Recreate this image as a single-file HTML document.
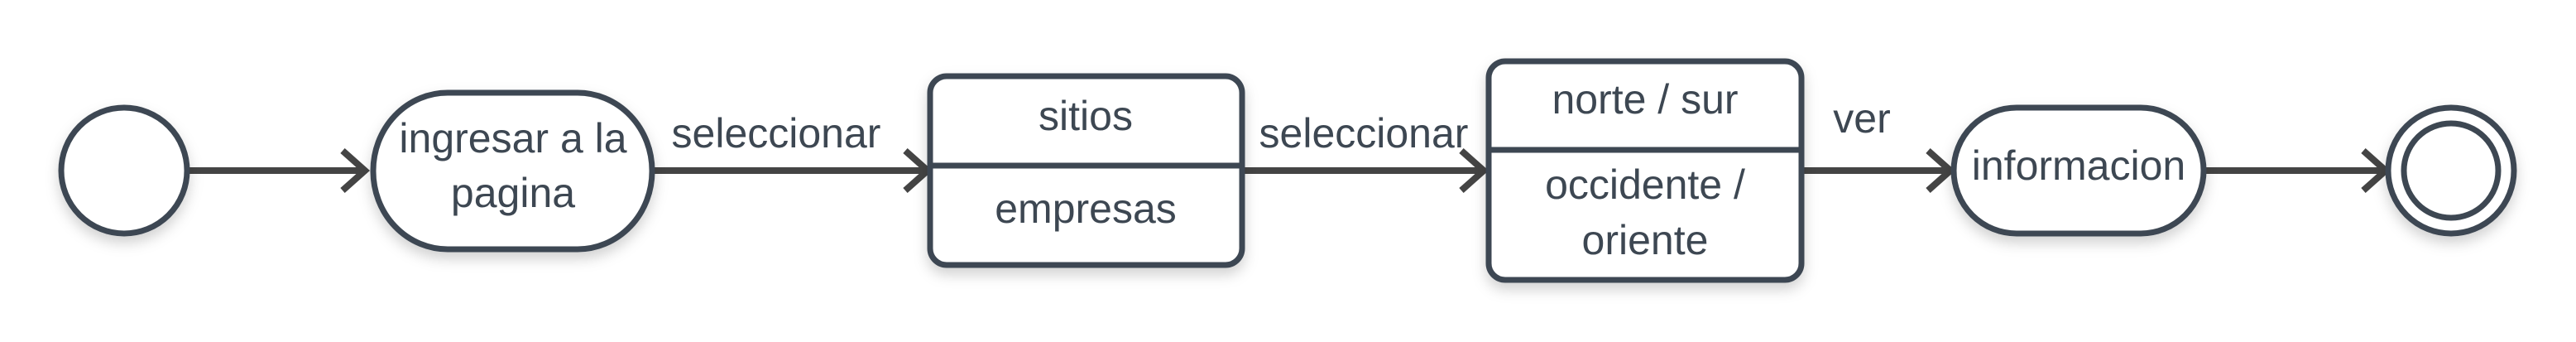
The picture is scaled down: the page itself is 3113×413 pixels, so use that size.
<!DOCTYPE html>
<html><head><meta charset="utf-8"><style>
html,body{margin:0;padding:0;background:#fff;}
svg{display:block;}
text{font-family:"Liberation Sans",sans-serif;font-size:50px;fill:#3d4752;text-anchor:middle;}
</style></head><body>
<svg width="3113" height="413" viewBox="0 0 3113 413" xmlns="http://www.w3.org/2000/svg">
<defs>
<filter id="sh" x="-20%" y="-20%" width="140%" height="150%">
<feDropShadow dx="0" dy="8" stdDeviation="8" flood-color="#000" flood-opacity="0.18"/>
</filter>
</defs>
<g stroke="#444" stroke-width="8" fill="none">
<line x1="226" y1="206" x2="440" y2="206"/>
<polyline points="414,182 441,206 414,230"/>
<line x1="788" y1="206" x2="1118" y2="206"/>
<polyline points="1094,182 1121,206 1094,230"/>
<line x1="1501" y1="206" x2="1792" y2="206"/>
<polyline points="1766,182 1793,206 1766,230"/>
<line x1="2177" y1="206" x2="2354" y2="206"/>
<polyline points="2330,182 2357,206 2330,230"/>
<line x1="2663" y1="206" x2="2880" y2="206"/>
<polyline points="2856,182 2883,206 2856,230"/>
</g>
<g stroke="#3d4752" stroke-width="7" fill="#fff" filter="url(#sh)">
<circle cx="150" cy="206" r="76"/>
<rect x="451" y="112" width="337" height="189" rx="90" ry="94"/>
<rect x="1124" y="92" width="377" height="228" rx="20"/>
<rect x="1799" y="74" width="378" height="264" rx="20"/>
<rect x="2361" y="130" width="302" height="152" rx="76"/>
<circle cx="2962" cy="206" r="76"/>
</g>
<g stroke="#3d4752" stroke-width="7" fill="none">
<line x1="1124" y1="200" x2="1501" y2="200"/>
<line x1="1799" y1="181" x2="2177" y2="181"/>
<circle cx="2962" cy="206" r="57"/>
</g>
<text x="620" y="184">ingresar a la</text>
<text x="620" y="250">pagina</text>
<text x="938" y="178">seleccionar</text>
<text x="1312" y="157">sitios</text>
<text x="1312" y="269">empresas</text>
<text x="1648" y="178">seleccionar</text>
<text x="1988" y="137">norte / sur</text>
<text x="1988" y="240">occidente /</text>
<text x="1988" y="307">oriente</text>
<text x="2250" y="160">ver</text>
<text x="2512" y="217">informacion</text>
</svg>
</body></html>
